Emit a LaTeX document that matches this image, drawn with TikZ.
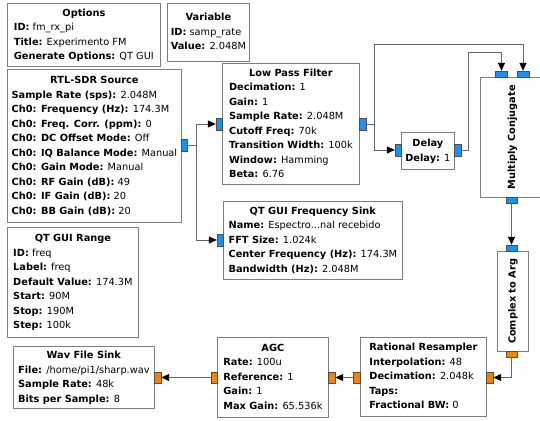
\documentclass[tikz,border=0pt]{standalone}
\usepackage{fontspec}
\setmainfont{DejaVu Sans}
\usetikzlibrary{arrows.meta}
\definecolor{cplx}{RGB}{30,144,240}
\definecolor{flt}{RGB}{245,130,0}
\definecolor{boxgray}{RGB}{125,125,125}
\definecolor{wiregray}{RGB}{100,100,100}
\newcommand{\blockfont}{\fontsize{9.8}{14.5}\selectfont}
\newcommand{\grcblock}[2]{\begin{tabular}{@{}l@{}}\multicolumn{1}{@{}c@{}}{\textbf{#1}}\\#2\end{tabular}}

\begin{document}
\begin{tikzpicture}[x=1pt, y=-1pt,
    block/.style={draw=boxgray, fill=white, line width=0.8pt, inner sep=0pt, anchor=north west, font=\blockfont},
    cport/.style={draw=black!70, fill=cplx, line width=0.4pt, inner sep=0pt},
    fport/.style={draw=black!70, fill=flt, line width=0.4pt, inner sep=0pt},
    conn/.style={draw=wiregray, line width=0.8pt, -{Triangle[length=8pt, width=7pt, color=black]}}]
    \clip (0,0) rectangle (540,420);

    % Variables and options
    \node[block, minimum width=153, minimum height=63] (options) at (7,3)
        {\grcblock{Options}{\textbf{ID:} fm\_rx\_pi\\ \textbf{Title:} Experimento FM\\ \textbf{Generate Options:} QT GUI}};
    \node[block, minimum width=82, minimum height=58] (variable) at (167,3)
        {\grcblock{Variable}{\textbf{ID:} samp\_rate\\ \textbf{Value:} 2.048M}};
    \node[block, minimum width=131, minimum height=110] (range) at (7,227)
        {\grcblock{QT GUI Range}{\textbf{ID:} freq\\ \textbf{Label:} freq\\ \textbf{Default Value:} 174.3M\\ \textbf{Start:} 90M\\ \textbf{Stop:} 190M\\ \textbf{Step:} 100k}};

    % Source and filter
    \node[block, minimum width=174, minimum height=153] (rtl) at (7,69)
        {\grcblock{RTL-SDR Source}{\textbf{Sample Rate (sps):} 2.048M\\ \textbf{Ch0: Frequency (Hz):} 174.3M\\ \textbf{Ch0: Freq. Corr. (ppm):} 0\\ \textbf{Ch0: DC Offset Mode:} Off\\ \textbf{Ch0: IQ Balance Mode:} Manual\\ \textbf{Ch0: Gain Mode:} Manual\\ \textbf{Ch0: RF Gain (dB):} 49\\ \textbf{Ch0: IF Gain (dB):} 20\\ \textbf{Ch0: BB Gain (dB):} 20}};
    \node[block, minimum width=137, minimum height=121] (lpf) at (222,63)
        {\grcblock{Low Pass Filter}{\textbf{Decimation:} 1\\ \textbf{Gain:} 1\\ \textbf{Sample Rate:} 2.048M\\ \textbf{Cutoff Freq:} 70k\\ \textbf{Transition Width:} 100k\\ \textbf{Window:} Hamming\\ \textbf{Beta:} 6.76}};
    \node[block, minimum width=179, minimum height=78] (fsink) at (223,201)
        {\grcblock{QT GUI Frequency Sink}{\textbf{Name:} Espectro...nal recebido\\ \textbf{FFT Size:} 1.024k\\ \textbf{Center Frequency (Hz):} 174.3M\\ \textbf{Bandwidth (Hz):} 2.048M}};

    % Demodulator
    \node[block, minimum width=53, minimum height=37] (delay) at (401,132)
        {\grcblock{Delay}{\textbf{Delay:} 1}};
    \node[block, minimum width=64, minimum height=120] (mult) at (480,77)
        {\rotatebox{90}{\textbf{Multiply Conjugate}}};
    \node[block, minimum width=31, minimum height=100] (carg) at (497,251)
        {\rotatebox{90}{\textbf{Complex to Arg}}};

    % Audio chain
    \node[block, minimum width=126, minimum height=79] (resamp) at (360,337)
        {\grcblock{Rational Resampler}{\textbf{Interpolation:} 48\\ \textbf{Decimation:} 2.048k\\ \textbf{Taps:}\\ \textbf{Fractional BW:} 0}};
    \node[block, minimum width=111, minimum height=80] (agc) at (217,337)
        {\grcblock{AGC}{\textbf{Rate:} 100u\\ \textbf{Reference:} 1\\ \textbf{Gain:} 1\\ \textbf{Max Gain:} 65.536k}};
    \node[block, minimum width=141, minimum height=62] (wav) at (13,346)
        {\grcblock{Wav File Sink}{\textbf{File:} /home/pi1/sharp.wav\\ \textbf{Sample Rate:} 48k\\ \textbf{Bits per Sample:} 8}};

    % Ports
    \node[cport, minimum width=6, minimum height=12] (rtlout) at (184,145) {};
    \node[cport, minimum width=6, minimum height=12] (lpfin) at (219,124) {};
    \node[cport, minimum width=7, minimum height=12] (lpfout) at (362.5,124) {};
    \node[cport, minimum width=6, minimum height=12] (fsinkin) at (220,240) {};
    \node[cport, minimum width=6, minimum height=12] (delayin) at (398,150) {};
    \node[cport, minimum width=7, minimum height=12] (delayout) at (457.5,150) {};
    \node[cport, minimum width=12, minimum height=6] (multinA) at (501.5,74) {};
    \node[cport, minimum width=12, minimum height=6] (multinB) at (523,74) {};
    \node[cport, minimum width=11, minimum height=6] (multout) at (511.5,200) {};
    \node[cport, minimum width=11, minimum height=6] (cargin) at (511.5,248) {};
    \node[fport, minimum width=11, minimum height=6] (cargout) at (511.5,354) {};
    \node[fport, minimum width=7, minimum height=11] (resampin) at (489.5,377.5) {};
    \node[fport, minimum width=7, minimum height=11] (resampout) at (356.5,377.5) {};
    \node[fport, minimum width=7, minimum height=11] (agcin) at (331.5,377.5) {};
    \node[fport, minimum width=6, minimum height=11] (agcout) at (214,377.5) {};
    \node[fport, minimum width=7, minimum height=11] (wavin) at (157.5,377.5) {};

    % Connections
    \draw[conn] (rtlout.east) -- ++(9,0) |- (lpfin.west);
    \draw[conn] (rtlout.east) -- ++(9,0) |- (fsinkin.west);
    \draw[conn] (lpfout.east) -| ++(8,-80) -| (multinB.north);
    \draw[conn] (lpfout.east) -- ++(8,0) |- (delayin.west);
    \draw[conn] (delayout.east) -| ++(7,-98) -| (multinA.north);
    \draw[conn] (multout.south) -- (cargin.north);
    \draw[conn] (cargout.south) |- (resampin.east);
    \draw[conn] (resampout.west) -- (agcin.east);
    \draw[conn] (agcout.west) -- (wavin.east);
\end{tikzpicture}
\end{document}
